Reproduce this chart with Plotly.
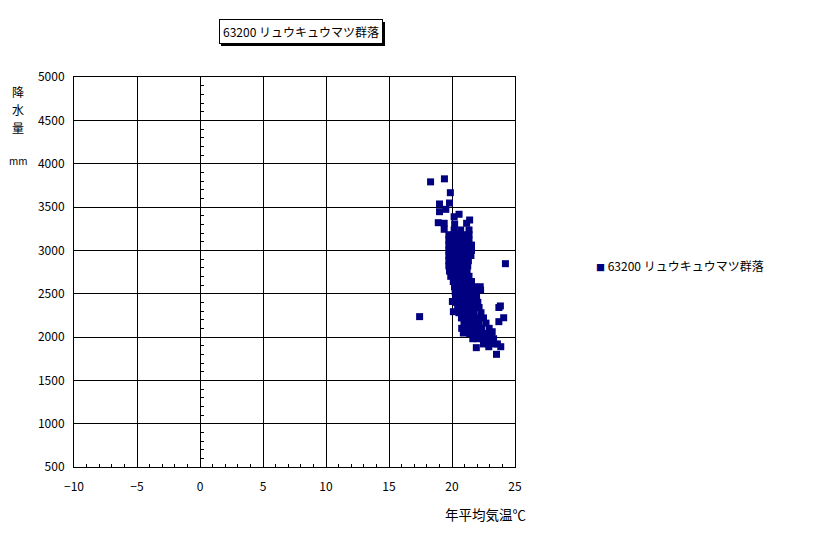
import plotly.graph_objs as go

# 年平均気温 (℃) と 降水量 (mm) - 63200 リュウキュウマツ群落
# scattered points around the top and the outliers
temp_sparse = [18.30, 19.40, 19.87, 19.01, 19.80, 19.01, 19.51, 20.56, 20.17, 21.40,
               21.16, 18.91, 19.38, 19.38, 20.21, 20.17, 20.69, 21.35, 17.43, 24.24,
               23.84, 23.72, 24.10, 23.72, 23.53, 23.87, 21.93, 22.92, 22.24, 22.27,
               20.03, 20.11, 20.77, 20.90, 23.19]
rain_sparse = [3790, 3825, 3665, 3535, 3546, 3446, 3473, 3416, 3388, 3350,
               3312, 3319, 3312, 3243, 3304, 3235, 3235, 3235, 2235, 2846,
               2358, 2340, 2222, 2177, 1800, 1888, 1877, 1888, 2580, 2540,
               2410, 2292, 2100, 2046, 2061]

# the dense band
temp_band = [
    19.75, 20.15, 20.55, 20.95, 21.35,
    19.75, 20.15, 20.55, 20.95, 21.35,
    19.75, 20.15, 20.55, 20.95, 21.35, 21.55,
    19.75, 20.15, 20.55, 20.95, 21.35, 21.55,
    19.75, 20.15, 20.55, 20.95, 21.35, 21.50,
    19.75, 20.15, 20.55, 20.95, 21.30,
    19.75, 20.15, 20.55, 20.95, 21.25,
    19.80, 20.20, 20.60, 21.00, 21.20,
    19.90, 20.30, 20.70, 21.10, 21.35,
    20.10, 20.50, 20.90, 21.30, 21.55,
    20.20, 20.60, 21.00, 21.40, 21.75,
    20.25, 20.65, 21.05, 21.45, 21.80,
    20.30, 20.70, 21.10, 21.50, 21.95,
    20.35, 20.75, 21.15, 21.55, 22.05,
    20.45, 20.85, 21.25, 21.65, 22.15,
    20.55, 20.95, 21.35, 21.75, 22.30,
    20.75, 21.15, 21.55, 21.95, 22.50,
    20.95, 21.35, 21.75, 22.15, 22.70,
    21.15, 21.55, 21.95, 22.35, 22.95,
    21.40, 21.80, 22.20, 22.60, 23.10,
    21.65, 22.05, 22.45, 22.85, 23.30,
    22.50, 22.90, 23.30, 23.60,
]
rain_band = [
    3180, 3180, 3180, 3180, 3180,
    3120, 3120, 3120, 3120, 3120,
    3060, 3060, 3060, 3060, 3060, 3060,
    3000, 3000, 3000, 3000, 3000, 3000,
    2940, 2940, 2940, 2940, 2940, 2940,
    2880, 2880, 2880, 2880, 2880,
    2820, 2820, 2820, 2820, 2820,
    2760, 2760, 2760, 2760, 2760,
    2700, 2700, 2700, 2700, 2700,
    2640, 2640, 2640, 2640, 2640,
    2580, 2580, 2580, 2580, 2580,
    2520, 2520, 2520, 2520, 2520,
    2460, 2460, 2460, 2460, 2460,
    2400, 2400, 2400, 2400, 2400,
    2340, 2340, 2340, 2340, 2340,
    2280, 2280, 2280, 2280, 2280,
    2220, 2220, 2220, 2220, 2220,
    2160, 2160, 2160, 2160, 2160,
    2100, 2100, 2100, 2100, 2100,
    2040, 2040, 2040, 2040, 2040,
    1980, 1980, 1980, 1980, 1980,
    1920, 1920, 1920, 1920,
]

name = "63200 リュウキュウマツ群落"
FONT = "Noto Sans CJK JP"
NAVY = "#000080"

# page body has an 8px margin, so the figure is drawn 8px in from the window
PW, PH = 441, 390          # plot area size
L, T = 66, 69              # figure margins


def px(x):  # window pixel -> paper x
    return (x - 74) / PW


def py(y):  # window pixel -> paper y
    return (467 - y) / PH


def label(text, x, y, size, **kw):
    d = dict(text=text, xref="paper", yref="paper", x=px(x), y=py(y),
             xanchor="center", yanchor="middle", showarrow=False,
             font=dict(size=size, color="black"))
    d.update(kw)
    return d


fig = go.Figure()
fig.add_trace(go.Scatter(
    x=temp_sparse + temp_band,
    y=rain_sparse + rain_band,
    mode="markers",
    name=name,
    showlegend=False,
    marker=dict(symbol="square", size=7, color=NAVY, line=dict(width=0)),
))
# empty trace so the crossing axis at x=0 gets its ticks
fig.add_trace(go.Scatter(x=[], y=[], yaxis="y2", showlegend=False, hoverinfo="skip"))

fig.update_layout(
    width=808,
    height=526,
    margin=dict(l=L, r=808 - L - PW, t=T, b=526 - T - PH, pad=0),
    paper_bgcolor="white",
    plot_bgcolor="white",
    font=dict(family=FONT, size=12, color="black"),
    xaxis=dict(
        range=[-10, 25], tick0=0, dtick=5,
        showgrid=True, gridcolor="black", gridwidth=1,
        zeroline=True, zerolinecolor="black", zerolinewidth=1,
        showline=True, linecolor="black", linewidth=1, mirror=True,
        ticks="inside", ticklen=3, tickcolor="black",
        minor=dict(dtick=1, ticks="inside", ticklen=3, tickcolor="black", showgrid=False),
        tickfont=dict(size=12),
        ticklabelstandoff=9,
    ),
    yaxis=dict(
        range=[500, 5000], tick0=0, dtick=500,
        showgrid=True, gridcolor="black", gridwidth=1,
        zeroline=False,
        showline=True, linecolor="black", linewidth=1, mirror=True,
        ticks="",
        tickfont=dict(size=12),
        ticklabelstandoff=6,
    ),
    yaxis2=dict(
        overlaying="y", anchor="free", position=10 / 35, side="left",
        range=[500, 5000], dtick=500,
        showgrid=False, zeroline=False, showticklabels=False,
        showline=True, linecolor="black", linewidth=1,
        ticks="inside", ticklen=3, tickcolor="black",
        minor=dict(dtick=100, ticks="inside", ticklen=3, tickcolor="black", showgrid=False),
    ),
    # drop shadow of the title box
    shapes=[dict(type="rect", xref="paper", yref="paper",
                 x0=px(221), x1=px(385), y0=py(46), y1=py(22),
                 fillcolor="black", line=dict(width=0), layer="above")],
    annotations=[
        label(name, 301, 32, 12, bgcolor="white",
              bordercolor="black", borderwidth=1, borderpad=3),
        # y axis title, stacked
        label("降", 18, 91, 12),
        label("水", 18, 109, 12),
        label("量", 18, 127, 12),
        label("mm", 18, 160, 10),
        # x axis title
        label("年平均気温℃", 528, 514, 13.5, xanchor="right"),
        # legend
        label(f'<span style="color:{NAVY};font-size:9px">■</span> {name}',
              594, 265, 12, xanchor="left"),
    ],
)

fig.write_html("out.html")
